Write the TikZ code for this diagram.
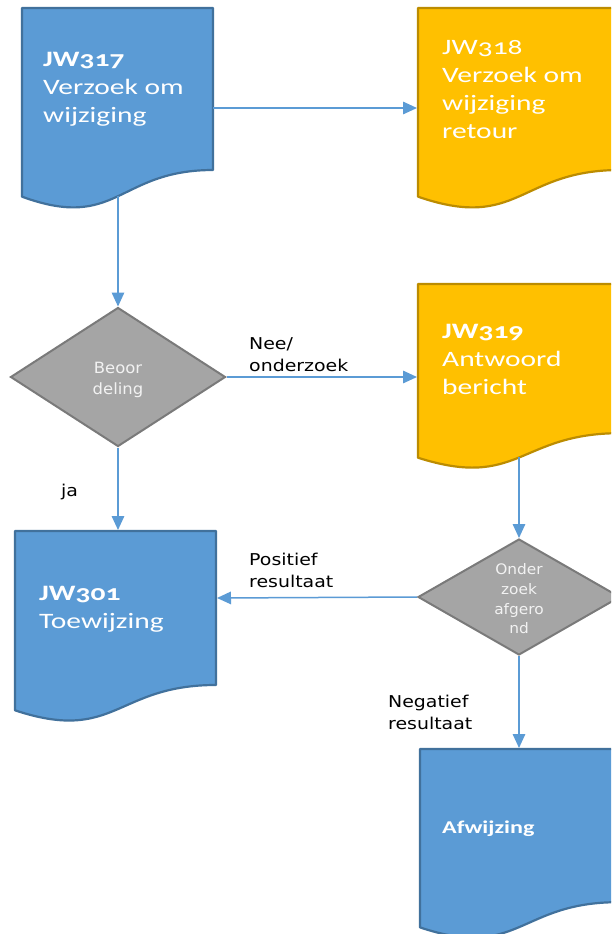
\documentclass[tikz,border=0pt]{standalone}
\usepackage{fontspec}
\setmainfont{Carlito}
\newfontfamily\boxfont[FakeStretch=1.34,Numbers=OldStyle]{Carlito}
\newfontfamily\lblfont[FakeStretch=1.16]{DejaVu Sans}
\newfontfamily\dmfont[FakeStretch=1.06]{DejaVu Sans}
\usetikzlibrary{shapes.geometric,arrows.meta}
\definecolor{bluefill}{HTML}{5B9BD5}
\definecolor{blueline}{HTML}{41719C}
\definecolor{goldfill}{HTML}{FFC000}
\definecolor{goldline}{HTML}{BC8C00}
\definecolor{grayfill}{HTML}{A5A5A5}
\definecolor{grayline}{HTML}{7A7A7A}
\definecolor{arrowc}{HTML}{5B9BD5}
\definecolor{boxtext}{HTML}{FFFFFF}
\definecolor{dtext}{HTML}{F2F2F2}
% name, x, y, w, h, fill, draw
\newcommand\docshape[7]{%
  \path[fill=#6,draw=#7,line width=2.2pt,line join=round]
    (#2,#3) -- ({#2+#4},#3) -- ({#2+#4},{#3+0.802*#5})
    .. controls ({#2+0.5*#4},{#3+0.802*#5}) and ({#2+0.5*#4},{#3+1.107*#5}) .. (#2,{#3+0.934*#5}) -- cycle;}
\tikzset{
  boxtxt/.style={anchor=base west, align=left, inner sep=0pt, text=boxtext,
    font=\boxfont\fontsize{22}{28}\selectfont},
  lbl/.style={anchor=base west, align=left, inner sep=0pt, text=black,
    font=\lblfont\fontsize{16.3}{21.5}\selectfont},
  decision/.style={diamond, fill=grayfill, draw=grayline, line width=2pt, inner sep=0pt},
  dtxt/.style={align=center, inner sep=0pt, text=dtext},
  flow/.style={draw=arrowc, line width=1.5pt, -{Triangle[length=14pt,width=12.5pt]}}
}
\begin{document}
\begin{tikzpicture}[x=1pt,y=-1pt]
\useasboundingbox (0,0) rectangle (611,934);
\clip (0,0) rectangle (611,934);
\fill[white] (0,0) rectangle (611,934);

% document shapes
\docshape{jw317}{22}{8}{191}{202}{bluefill}{blueline}
\docshape{jw318}{418}{8}{202}{202}{goldfill}{goldline}
\docshape{jw319}{418}{284}{202}{186}{goldfill}{goldline}
\docshape{jw301}{15}{531}{201}{192}{bluefill}{blueline}
\docshape{afw}{420}{749}{198}{191}{bluefill}{blueline}

\coordinate (jw317-e) at (213,108);
\coordinate (jw317-s) at (118,196);
\coordinate (jw318-w) at (417,108);
\coordinate (jw319-w) at (417,377);
\coordinate (jw319-s) at (519,457);
\coordinate (jw301-n) at (118,530);
\coordinate (jw301-e) at (217,598);
\coordinate (afw-n) at (519,748);

% decisions
\node[decision, minimum width=215pt, minimum height=139pt] (d1) at (118,377) {};
\node[decision, minimum width=202pt, minimum height=116pt] (d2) at (519,597) {};

% box texts (anchor = baseline of last line)
\node[boxtxt] (t317) at (43,122) {\bfseries JW317\\Verzoek om\\wijziging};
\node[boxtxt] (t318) at (442,138) {JW318\\Verzoek om\\wijziging\\retour};
\node[boxtxt] (t319) at (442,394) {\bfseries JW319\\Antwoord\\bericht};
\node[boxtxt] (t301) at (39,628) {\bfseries JW301\\Toewijzing};
\node[boxtxt, font=\boxfont\fontsize{18}{24}\selectfont\bfseries] (tafw) at (442,833) {Afwijzing};

% decision texts
\node[dtxt, font=\dmfont\fontsize{15.5}{21}\selectfont] (td1) at (118,380) {Beoor\\deling};
\node[dtxt, font=\dmfont\fontsize{14.5}{19.7}\selectfont] (td2) at (519,599) {Onder\\zoek\\afgero\\nd};

% connectors
\draw[flow] (jw317-e) -- (jw318-w);
\draw[flow] (jw317-s) -- (d1.north);
\draw[flow] (d1.east) -- (jw319-w);
\draw[flow] (d1.south) -- (jw301-n);
\draw[flow] (jw319-s) -- (d2.north);
\draw[flow] (d2.west) -- (jw301-e);
\draw[flow] (d2.south) -- (afw-n);

% labels (anchor = baseline of last line)
\node[lbl] (l1) at (249,371) {Nee/\\onderzoek};
\node[lbl] (l2) at (61,496) {ja};
\node[lbl] (l3) at (249,587) {Positief\\resultaat};
\node[lbl] (l4) at (388,729) {Negatief\\resultaat};
\end{tikzpicture}
\end{document}
